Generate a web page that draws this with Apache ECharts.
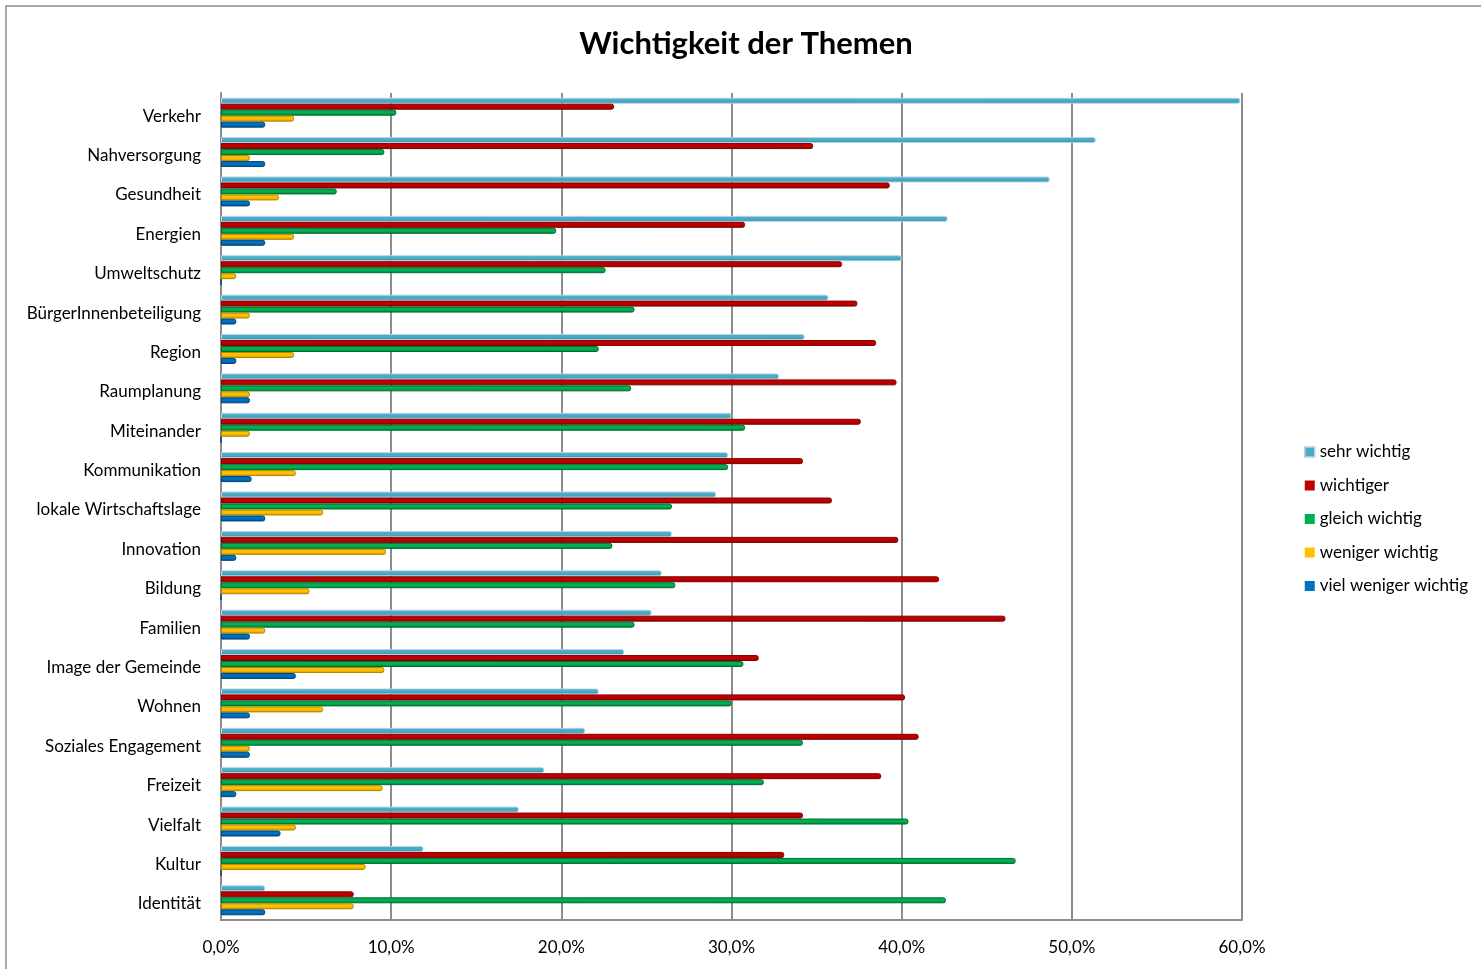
<!DOCTYPE html>
<html>
<head>
<meta charset="utf-8">
<script src="https://cdn.jsdelivr.net/npm/echarts@6/dist/echarts.min.js"></script>
<style>
html,body{margin:0;padding:0;background:#fff;}
#chart{width:1481px;height:969px;}
</style>
</head>
<body>
<div id="chart"></div>
<script>
const categories = ["Verkehr","Nahversorgung","Gesundheit","Energien","Umweltschutz","BürgerInnenbeteiligung","Region","Raumplanung","Miteinander","Kommunikation","lokale Wirtschaftslage","Innovation","Bildung","Familien","Image der Gemeinde","Wohnen","Soziales Engagement","Freizeit","Vielfalt","Kultur","Identität"];
const seriesNames = ["sehr wichtig","wichtiger","gleich wichtig","weniger wichtig","viel weniger wichtig"];
const sehrWichtig = [59.9,51.4,48.7,42.7,40.0,35.7,34.3,32.8,30.0,29.8,29.1,26.5,25.9,25.3,23.7,22.2,21.4,19.0,17.5,11.9,2.6];
const wichtiger = [23.1,34.8,39.3,30.8,36.5,37.4,38.5,39.7,37.6,34.2,35.9,39.8,42.2,46.1,31.6,40.2,41.0,38.8,34.2,33.1,7.8];
const gleichWichtig = [10.3,9.6,6.8,19.7,22.6,24.3,22.2,24.1,30.8,29.8,26.5,23.0,26.7,24.3,30.7,30.0,34.2,31.9,40.4,46.7,42.6];
const wenigerWichtig = [4.3,1.7,3.4,4.3,0.9,1.7,4.3,1.7,1.7,4.4,6.0,9.7,5.2,2.6,9.6,6.0,1.7,9.5,4.4,8.5,7.8];
const vielWenigerWichtig = [2.6,2.6,1.7,2.6,0,0.9,0.9,1.7,0,1.8,2.6,0.9,0,1.7,4.4,1.7,1.7,0.9,3.5,0,2.6];
const xTicks = [0,10,20,30,40,50,60];

const dataSets = [sehrWichtig, wichtiger, gleichWichtig, wenigerWichtig, vielWenigerWichtig];
const colors = ["#4BACC6","#C00000","#00B050","#FFC000","#0070C0"];
const darker = ["#31849B","#8B0000","#007A3A","#C89600","#004F8A"];
const borders = ["#B7D3EA","#800000","#006B30","#B38600","#00457A"];

function grad(i){
  return new echarts.graphic.LinearGradient(0,0,0,1,[
    {offset:0,color:colors[i]},
    {offset:0.55,color:colors[i]},
    {offset:1,color:darker[i]}
  ]);
}

const chart = echarts.init(document.getElementById('chart'));
const font = "Lato, 'Open Sans', sans-serif";
chart.setOption({
  animation:false,
  textStyle:{fontFamily:font},
  title:{
    text:"Wichtigkeit der Themen",
    left:741, top:23, textAlign:'center',
    textStyle:{fontSize:31,fontWeight:'bold',color:'#000',fontFamily:font}
  },
  graphic:[{
    type:'rect', shape:{x:6,y:6,width:1480,height:968},
    style:{fill:'none',stroke:'#8c8c8c',lineWidth:1.5}, silent:true, z:-10
  }],
  legend:{
    orient:'vertical', left:1299, top:438.5,
    itemWidth:10, itemHeight:10, itemGap:16.5,
    icon:'rect',
    textStyle:{fontSize:17,color:'#000',fontFamily:font},
    data:seriesNames.map((n,i)=>({name:n,itemStyle:{color:colors[i],borderWidth: i===0?1.5:0,borderColor:borders[0]}}))
  },
  grid:{left:221,right:239,top:93,bottom:49,containLabel:false},
  xAxis:{
    type:'value', min:0, max:60, interval:10,
    axisLine:{show:true,lineStyle:{color:'#8c8c8c',width:2}},
    axisTick:{show:false},
    splitLine:{show:true,lineStyle:{color:'#8c8c8c',width:2}},
    axisLabel:{fontSize:17,color:'#000',margin:19,fontFamily:font,
      formatter:v=>v.toFixed(1).replace('.',',')+'%'}
  },
  yAxis:{
    type:'category', data:categories, inverse:true,
    axisLine:{show:true,lineStyle:{color:'#8c8c8c',width:2}},
    axisTick:{show:false},
    axisLabel:{fontSize:17,color:'#000',margin:20,fontFamily:font,verticalAlign:'top',lineHeight:7}
  },
  series:dataSets.map((d,i)=>({
    name:seriesNames[i], type:'bar', data:d,
    barGap:'0%', barCategoryGap:'24%',
    itemStyle:{color:grad(i),borderColor:borders[i],borderWidth:1,borderRadius:[0,2,2,0]}
  }))
});
</script>
</body>
</html>
